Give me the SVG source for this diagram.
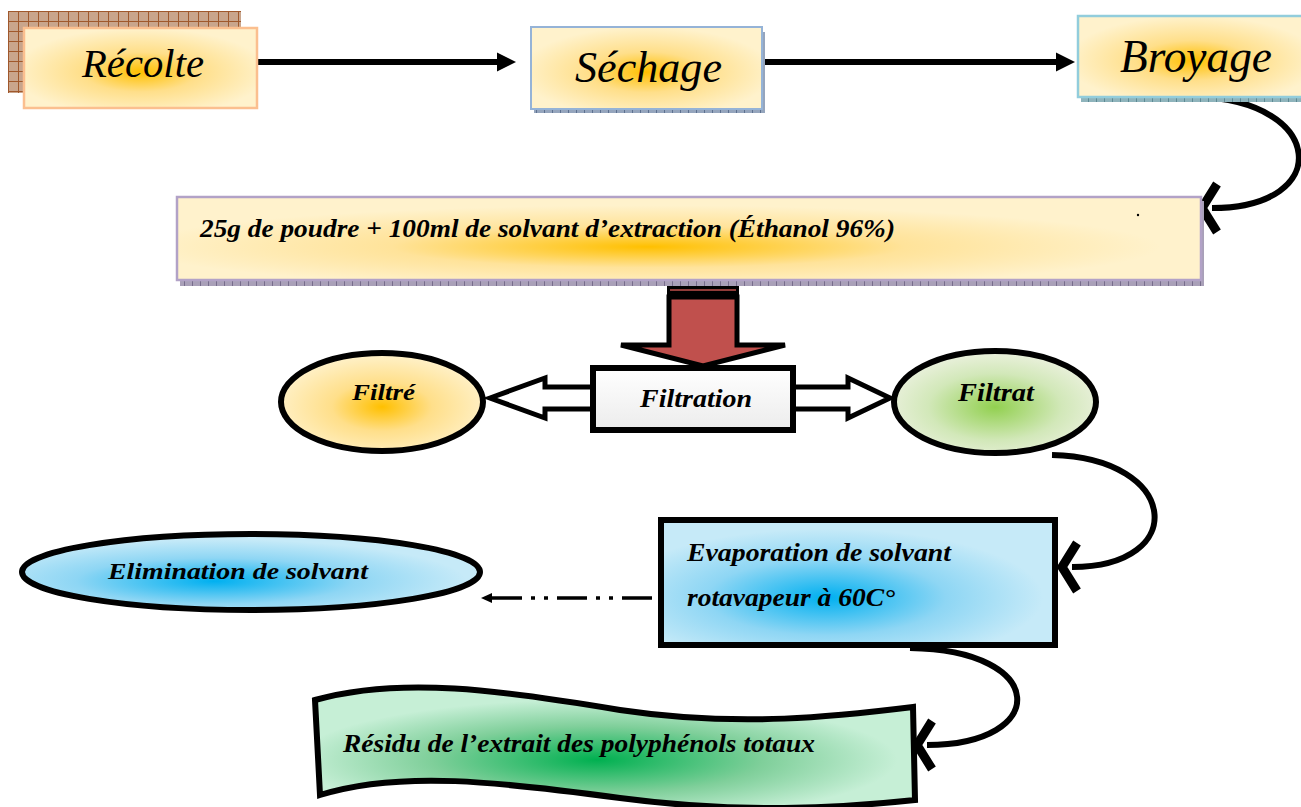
<svg xmlns="http://www.w3.org/2000/svg" width="1301" height="807" viewBox="0 0 1301 807">
<style>
.t{font-family:"Liberation Serif","DejaVu Serif",serif;font-style:italic;fill:#000}
.tb{font-family:"Liberation Serif","DejaVu Serif",serif;font-style:italic;font-weight:bold;fill:#000}
.conn{fill:none;stroke:#000;stroke-width:6}
.thick{stroke:#000;stroke-width:6}
</style>
<defs>
<radialGradient id="gOrange" cx="0.5" cy="0.55" r="0.55">
<stop offset="0" stop-color="#ffc000"/>
<stop offset="0.45" stop-color="#ffdf8a"/>
<stop offset="1" stop-color="#fff2cc"/>
</radialGradient>
<radialGradient id="gBig" cx="0.46" cy="0.6" r="0.5">
<stop offset="0" stop-color="#ffc000"/>
<stop offset="0.5" stop-color="#ffe39a"/>
<stop offset="1" stop-color="#fff2cc"/>
</radialGradient>
<radialGradient id="gGreenL" cx="0.5" cy="0.55" r="0.55">
<stop offset="0" stop-color="#92d050"/>
<stop offset="0.6" stop-color="#d2e8b9"/>
<stop offset="1" stop-color="#ebf1de"/>
</radialGradient>
<radialGradient id="gBlue" cx="0.42" cy="0.62" r="0.55">
<stop offset="0" stop-color="#00b0f0"/>
<stop offset="0.55" stop-color="#8ed6f4"/>
<stop offset="1" stop-color="#c6eaf8"/>
</radialGradient>
<radialGradient id="gGreen" cx="0.47" cy="0.6" r="0.5">
<stop offset="0" stop-color="#00b050"/>
<stop offset="0.55" stop-color="#7fcf9a"/>
<stop offset="1" stop-color="#c6efd6"/>
</radialGradient>
<linearGradient id="gGrey" x1="0" y1="0" x2="0" y2="1">
<stop offset="0" stop-color="#ffffff"/>
<stop offset="1" stop-color="#ececec"/>
</linearGradient>
<pattern id="pBrown" width="10" height="10" patternUnits="userSpaceOnUse" x="8" y="11">
<rect width="10" height="10" fill="#c9a58c"/>
<path d="M0,0.5H10M0.5,0V10" stroke="#a0582c" stroke-width="1"/>
</pattern>
<pattern id="pBlueGrey" width="8" height="8" patternUnits="userSpaceOnUse">
<rect width="8" height="8" fill="#95a5bd"/>
<path d="M0.5,0V8" stroke="#5d7190" stroke-width="1"/>
</pattern>
<pattern id="pTeal" width="8" height="8" patternUnits="userSpaceOnUse">
<rect width="8" height="8" fill="#8fb4bc"/>
<path d="M0.5,0V8" stroke="#5e8a94" stroke-width="1"/>
</pattern>
<pattern id="pLav" width="8" height="8" patternUnits="userSpaceOnUse">
<rect width="8" height="8" fill="#a9a0b8"/>
<path d="M0.5,0V8" stroke="#776d8c" stroke-width="1"/>
</pattern>
<marker id="mTri" markerUnits="userSpaceOnUse" markerWidth="20" markerHeight="20" refX="0" refY="10" orient="auto" overflow="visible">
<path d="M0,0.5 L19,10 L0,19.5 Z" fill="#000"/>
</marker>
<marker id="mSmall" markerUnits="userSpaceOnUse" markerWidth="12" markerHeight="12" refX="0" refY="6" orient="auto" overflow="visible">
<path d="M0,1 L11,6 L0,11 Z" fill="#000"/>
</marker>
<marker id="mOpen" markerUnits="userSpaceOnUse" markerWidth="24" markerHeight="60" refX="5" refY="30" orient="auto" overflow="visible">
<polyline points="0,6 15,30 0,54" fill="none" stroke="#000" stroke-width="9" stroke-miterlimit="8"/>
</marker>
</defs>

<g id="connectors">
<line class="conn" x1="257" y1="62" x2="497" y2="62" marker-end="url(#mTri)"/>
<line class="conn" x1="762" y1="62" x2="1056" y2="62" marker-end="url(#mTri)"/>
<path class="conn" d="M1197,97 C1325,100 1335,208 1212,208" marker-end="url(#mOpen)"/>
<path class="conn" d="M1052,455 C1180,458 1190,567 1072,567" marker-end="url(#mOpen)"/>
<path class="conn" d="M910,648 C1050,650 1050,745 927,745" marker-end="url(#mOpen)"/>
<line x1="652" y1="598" x2="492" y2="598" stroke="#000" stroke-width="3.5" stroke-dasharray="30 9 4 9 4 9" marker-end="url(#mSmall)"/>
<g id="bigArrow">
<rect x="667" y="281" width="72" height="16" fill="#000"/>
<line x1="670" y1="290" x2="736" y2="290" stroke="#c0504d" stroke-width="1.5"/>
<polygon points="669,297 737,297 737,345 785,345 703,366 621,345 669,345" fill="#c0504d" stroke="#000" stroke-width="5" stroke-linejoin="miter"/>
</g>
<polygon points="490,398 545,378 545,387 594,387 594,409 545,409 545,418" fill="#fff" stroke="#000" stroke-width="5"/>
<polygon points="793,387 848,387 848,378 890,398 848,418 848,409 793,409" fill="#fff" stroke="#000" stroke-width="5"/>
</g>

<g id="recolte">
<rect x="8" y="11" width="233" height="82" fill="url(#pBrown)"/>
<rect x="24" y="28" width="233" height="80" fill="url(#gOrange)" stroke="#fbbf8f" stroke-width="2.5"/>
<text class="t" x="82" y="77" font-size="41" textLength="122" lengthAdjust="spacingAndGlyphs">Récolte</text>
</g>

<g id="sechage">
<rect x="534" y="32" width="231" height="81" fill="url(#pBlueGrey)"/>
<rect x="531" y="27" width="231" height="82" fill="url(#gOrange)" stroke="#95b3d7" stroke-width="2"/>
<text class="t" x="575" y="82" font-size="45" textLength="147" lengthAdjust="spacingAndGlyphs">Séchage</text>
</g>

<g id="broyage">
<rect x="1081" y="20" width="230" height="82" fill="url(#pTeal)"/>
<rect x="1078" y="16" width="230" height="81" fill="url(#gOrange)" stroke="#92cddc" stroke-width="2.5"/>
<text class="t" x="1120" y="72" font-size="46" textLength="152" lengthAdjust="spacingAndGlyphs">Broyage</text>
</g>

<g id="melange">
<rect x="180" y="201" width="1024" height="85" fill="url(#pLav)"/>
<rect x="177" y="197" width="1024" height="83" fill="url(#gBig)" stroke="#b2a2c7" stroke-width="2.5"/>
<text class="tb" x="200" y="237" font-size="25" textLength="695" lengthAdjust="spacingAndGlyphs">25g de poudre + 100ml de solvant d’extraction (Éthanol 96%)</text>
<circle cx="1138" cy="215" r="1.2" fill="#000"/>
</g>

<g id="filtration">
<rect x="593" y="368" width="200" height="62" fill="url(#gGrey)" class="thick"/>
<text class="tb" x="640" y="407" font-size="26" textLength="112" lengthAdjust="spacingAndGlyphs">Filtration</text>
</g>

<g id="filtre">
<ellipse cx="382" cy="402" rx="101" ry="49" fill="url(#gOrange)" stroke="#000" stroke-width="6"/>
<text class="tb" x="352" y="400" font-size="24" textLength="63" lengthAdjust="spacingAndGlyphs">Filtré</text>
</g>

<g id="filtrat">
<ellipse cx="995" cy="402" rx="101" ry="51" fill="url(#gGreenL)" stroke="#000" stroke-width="6"/>
<text class="tb" x="958" y="401" font-size="25" textLength="76" lengthAdjust="spacingAndGlyphs">Filtrat</text>
</g>

<g id="evaporation">
<rect x="661" y="520" width="394" height="125" fill="url(#gBlue)" class="thick"/>
<text class="tb" x="687" y="561" font-size="25" textLength="264" lengthAdjust="spacingAndGlyphs">Evaporation de solvant</text>
<text class="tb" x="687" y="606" font-size="25" textLength="208" lengthAdjust="spacingAndGlyphs">rotavapeur à 60C°</text>
</g>

<g id="elimination">
<ellipse cx="251" cy="572" rx="229" ry="38" fill="url(#gBlue)" stroke="#000" stroke-width="6"/>
<text class="tb" x="108" y="579" font-size="24" textLength="260" lengthAdjust="spacingAndGlyphs">Elimination de solvant</text>
</g>

<g id="residu">
<path d="M315,700 C400,676 500,690 620,710 C740,728 840,716 913,707 L915,800 C840,808 740,814 620,798 C500,782 400,770 320,795 Z" fill="url(#gGreen)" stroke="#000" stroke-width="6" stroke-linejoin="miter"/>
<text class="tb" x="343" y="752" font-size="25" textLength="472" lengthAdjust="spacingAndGlyphs">Résidu de l’extrait des polyphénols totaux</text>
</g>
</svg>
